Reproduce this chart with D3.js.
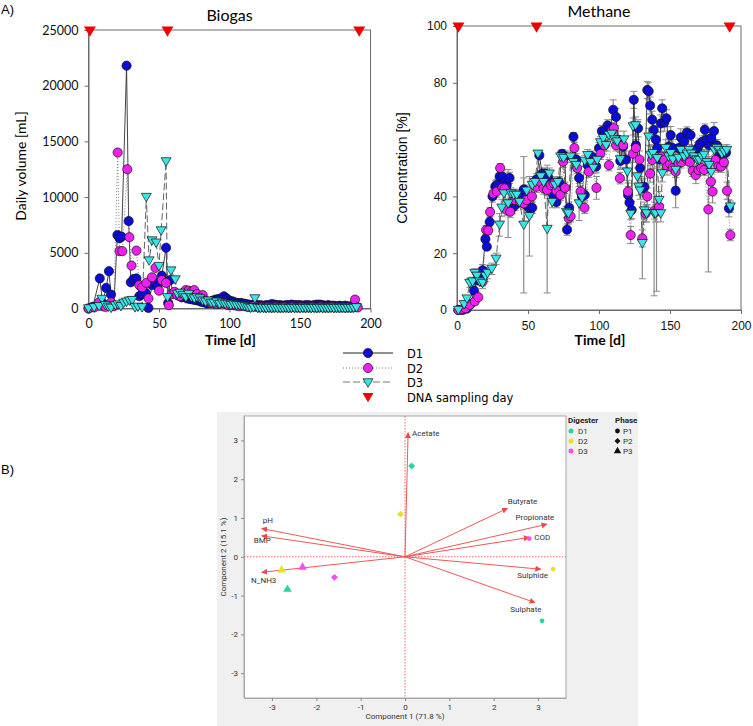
<!DOCTYPE html>
<html><head><meta charset="utf-8">
<script src="https://cdn.jsdelivr.net/npm/d3@7"></script>
<style>body{margin:0;background:#fff}</style>
</head><body><svg id="c" width="753" height="726"></svg>
<script>
// ---------- DATA ----------
const seriesNames = ["D1","D2","D3"];
const dnaSamplingDays = [1, 56, 192];
const biogasTicksY = [0,5000,10000,15000,20000,25000];
const methaneTicksY = [0,20,40,60,80,100];
const timeTicks = [0,50,100,150,200];

// Biogas daily volume [day, mL]
const biogasD1 = [[0,0],[3,150],[8,2700],[10,500],[12.5,1850],[14.5,3350],[16,1250],[18,300],[20.5,6600],[22,6300],[23.5,6450],[27,21800],[28.5,7850],[30,2350],[32,2650],[34,2700],[36,1100],[38,1300],[40.5,1400],[42.5,50],[45,2100],[47,2350],[49,2000],[52,2950],[55,5450],[56.5,500],[58,2550],[60,1350],[62,1300],[64,1150],[66,1000],[68,1050],[70,900],[72,850],[74,800],[76,750],[78,700],[80,600],[82,550],[84,450],[86,500],[88,700],[90,800],[92,850],[94,900],[96,1100],[98,900],[100,700],[102,650],[104,550],[106,500],[108,500],[110,450],[112,400],[114,350],[116,300],[118,350],[120,300],[122,300],[124,250],[126,300],[128,300],[130,400],[132,350],[134,300],[136,300],[138,250],[140,300],[142,300],[144,350],[146,300],[148,300],[150,300],[152,250],[154,300],[156,300],[158,250],[160,300],[162,350],[164,350],[166,300],[168,250],[170,300],[172,250],[174,250],[176,200],[178,250],[180,200],[182,250],[184,200],[186,200],[188,150],[190,150]];
const biogasD2 = [[0,0],[4,100],[7.5,550],[10,200],[12,150],[16,550],[18,200],[20.7,14000],[22,5150],[24,5150],[27.5,12500],[29,6400],[30.5,3850],[34,5200],[36,2100],[38,1900],[41,2300],[42.5,900],[45,2800],[47.5,3650],[50,1600],[52,2550],[55,2300],[57,300],[59,1300],[61,1500],[63,1200],[65,1100],[67,1400],[69,1650],[71,1600],[73,1500],[75,1650],[77,1300],[79,1000],[81,1200],[83,700],[85,600],[87,500],[89,450],[91,400],[93,450],[95,500],[97,400],[99,300],[101,350],[103,300],[105,250],[107,200],[109,250],[111,200],[113,150],[115,150],[117,200],[119,150],[121,100],[123,150],[125,100],[127,150],[129,100],[131,100],[133,150],[135,100],[137,100],[139,150],[141,100],[143,100],[145,150],[147,100],[149,100],[151,150],[153,100],[155,100],[157,100],[159,150],[161,100],[163,100],[165,150],[167,100],[169,100],[171,100],[173,150],[175,100],[177,100],[179,100],[181,100],[183,100],[185,100],[187,100],[189,800],[191,100]];
const biogasD3 = [[0,0],[4,100],[7.5,200],[9.5,850],[12,300],[14,150],[16,50],[19,300],[21,350],[23,200],[25,500],[27,600],[29,700],[31,750],[33,100],[35,150],[38,100],[41,10000],[43,4300],[45,6100],[48,5900],[50,3800],[51.5,7000],[55,13200],[56,1000],[58.5,3400],[61.5,2600],[63,1300],[65,1400],[67,1200],[69,1000],[71,1300],[73,1000],[75,900],[77,1000],[79,900],[81,700],[83,600],[85,700],[87,500],[89,500],[91,600],[93,400],[95,500],[97,400],[99,400],[101,300],[103,350],[105,300],[107,300],[109,250],[111,200],[113,100],[115,50],[117,100],[118,900],[120,50],[122,30],[124,50],[126,20],[128,50],[130,30],[132,50],[134,20],[136,40],[138,30],[140,50],[142,20],[144,40],[146,30],[148,50],[150,20],[152,40],[154,30],[156,50],[158,20],[160,40],[162,30],[164,50],[166,20],[168,40],[170,30],[172,50],[174,20],[176,40],[178,30],[180,50],[182,20],[184,40],[186,30],[188,50],[190,100]];

// Methane concentration [day, %, sd]
const methaneD1 = [[1,0,0.5],[4,0,0.5],[7,0.5,0.5],[9.5,2,1],[12,6.8,1],[14,10.5,1.5],[16,11,1.5],[18,14,2],[20,25,1.5],[21,22.3,1],[23,31,1.5],[25,40,2],[27,43.5,2],[28,44,2],[30,47,2],[32,47,2],[33.5,45,2],[35,44,2],[37,46.5,2],[39,36,2],[41,37,2],[43,39,2],[45,40,2],[47,42.5,4],[49,37,2],[51,35.8,3],[53,36,2],[56,46,2],[58,54.5,1],[60,48,2],[62,48,2],[64,47,2],[66,45,2],[68,40,2],[70,38,2],[72,45,2],[74,55,1.5],[76,54,2],[77.5,28.3,2],[79,36,2],[82,61,1.5],[84,53,2],[86,46.5,2],[88,40,2],[90,40.5,2],[92,51,2],[95,54,2],[98,50.5,2],[100,57,2],[102,63,2],[104,62.8,2],[106,65,2],[108,64,2],[110,70.5,3.5],[112,68,3],[113.5,60,3],[115,52.5,3],[117,57.5,3],[119,53,3],[120.5,40.5,3],[121.5,37.8,3],[123,35.2,3],[124.5,74,3],[126,58,3],[127.5,64,3],[129,50,3],[130.5,42.8,3],[132,43.4,3],[134,77.5,3],[135,77,3],[136,72,3],[137.5,67,3],[138.5,63.4,3],[140,60,3],[141,57,3],[142.5,53,3],[143.5,65.7,3],[144.5,71,3],[146,66,3],[147.5,67.5,3],[149,57.5,3],[150.5,61.6,3],[152,57,3],[154,42,6],[156,57,3],[157.6,60.8,3],[160,59.3,2],[162,62.5,2],[164.5,61.6,2],[166,56,2],[168,55,2],[169.5,57,2],[171,58.5,2],[173,59.3,2],[174.5,63.5,2],[176,60,2],[177.5,58,2],[179,60.5,2],[181,63,3],[183,58,2],[185,55,2],[187,55,2],[189.5,55.5,2],[191.5,35.8,3]];
const methaneD2 = [[1,0,0.3],[4,0.3,0.3],[6,0.6,0.5],[9,1.8,0.5],[12.5,3,1],[15,4.5,1],[18,10,1.5],[20.5,28.2,1.5],[22,28,1.5],[23.3,34.5,1.5],[25.7,41,2],[28,41.7,2],[30.4,50,1.5],[32,43,2],[33.5,42.8,2],[35,35.2,2],[37.5,34.6,2],[39.5,38.7,2],[41,38.7,2],[44.5,38.1,2],[47,37.5,2],[49,38.7,2],[52.8,40,2],[56,43.4,2],[59,45,2],[61,42.8,2],[63.4,42.3,2],[66,44,2],[68,44.6,2],[70,42,2],[72.8,40.5,2],[74.7,52.2,2],[76,43,2],[78.7,32.3,2],[80,33,2],[82.7,57,2],[84.6,50,2],[87,41.7,2],[89.8,36,2],[92.8,48.7,2],[95,52,2],[98.2,43,4],[101,55,2],[104,58,2],[107,51,2],[109,63,2],[110.5,64,2],[112,58,2],[114.7,46.4,2],[117,58,3],[120.4,41.7,3],[122.3,26.4,3],[124,55,3],[126,57,3],[128.5,53,3],[130.5,25.2,3],[132.9,34,3],[134,40,3],[136,48,3],[137.5,52.8,3],[139,35,3],[140.5,34.6,28],[142.3,36.4,3],[144,54,3],[146,52.8,3],[148,50.5,3],[150,51.5,2],[152,50,2],[154,48.7,2],[156,51.6,2],[158,52,2],[160,54,2],[162,53,2],[164,52,2],[166,49,2],[168.2,47.5,3],[170,49.3,2],[172,50,2],[174,49.3,2],[177,35.4,22],[178.8,45.2,3],[180,41.7,4],[182,52.8,2],[184,50.5,2],[186,50.5,2],[188,52,2],[190.1,42,3],[192.5,26.4,2]];
const methaneD3 = [[1,0,0.5],[5,2,1],[7,4,1],[9,9.5,1.5],[11,10,1.5],[12.5,13,1.5],[14,12,1.5],[16,10,1.5],[18,9.5,2],[20,12,2],[21.5,13,2],[24.5,14.5,2],[27.5,18,2],[30,30,4],[31.5,36,3],[33,41,3],[36,37.5,12],[38,41,2],[40,40.5,2],[42,40.5,2],[44,38,2],[47,30,24],[49,42,2],[51,33,14],[53,44,2],[55,45,2],[57,55,1],[59,47,2],[61,45,2],[63.5,28.5,22.5],[65,48,2],[67,38,2],[69,44,2],[71,45,2],[73,54,2],[75,53.5,2],[77,34.5,2],[78.5,34,2],[80,54,2],[82,52,2],[84,51,2],[86,37.5,6],[88,39.5,2],[90,52.5,2],[92,54.5,2],[94,52,2],[96,50,2],[98.7,52.8,2],[101,59,2],[103,60.5,2],[105,58,2],[107,61.6,2],[109,62,2],[111,60,2],[112.8,59.3,2],[115,53,3],[117.6,60,3],[120,48.7,3],[122.3,33.8,2],[124,64.6,3],[125.8,65,3],[127,47,3],[128,43.4,3],[129,42,3],[130.5,23.5,12.5],[132,35,3],[133.5,34,3],[135,61,3],[136.4,54.6,3],[138,55.2,3],[138.8,34,29],[139.8,34,3],[141,53.4,3],[142.3,38.7,3],[143.5,34,3],[144.6,48.1,3],[147,57,3],[149,54,2],[150.5,55.2,2],[152,53,2],[154,49.3,6],[156,53.5,2],[157.6,56.3,2],[160,54,2],[162,55,2],[163.5,56.3,2],[165,55,2],[167,54,2],[169,53,2],[170.6,52.8,2],[172.5,54,2],[174,54.6,2],[176,52,2],[177.6,51,3],[179,48.5,3],[181.2,56.3,2],[183,57,2],[184.7,56.3,2],[186.5,55,2],[188.2,55.7,2],[190,56.3,2],[192.5,36.4,2]];

// PCA biplot
const pcaTicks = [-3,-2,-1,0,1,2,3];
const pcaVars = ["Acetate","Butyrate","Propionate","COD","Sulphide","Sulphate","pH","BMP","N_NH3"];
const pcaVarX = [0.07, 2.31, 3.2, 2.8, 3.06, 2.93, -3.23, -3.23, -3.23];
const pcaVarY = [3.2, 1.25, 0.84, 0.5, -0.32, -1.18, 0.73, 0.54, -0.4];
const pcaDigester = ["D1","D2","D3","D2","D3","D1","D3","D2","D1"];
const pcaPhase = ["P2","P2","P2","P3","P3","P3","P1","P1","P1"];
const pcaScoreX = [0.15, -0.1, -1.59, -2.78, -2.31, -2.65, 2.8, 3.34, 3.09];
const pcaScoreY = [2.34, 1.1, -0.53, -0.34, -0.27, -0.84, 0.47, -0.32, -1.65];
const digesterNames = ["D1","D2","D3"];
const phaseNames = ["P1","P2","P3"];

// ---------- STYLE ----------
const svg = d3.select("#c");
const colA = {D1:"#0c0cd8", D2:"#f21ff2", D3:"#38e6e6"};
const lineDash = {D1:null, D2:"1,2", D3:"7,3"};
const lineCol = {D1:"#303030", D2:"#707070", D3:"#505050"};
const colB = {D1:"#2ad3a0", D2:"#ebe024", D3:"#f24ef2"};
const fCal = "Lato, 'Open Sans', sans-serif";
const fAri = "'Liberation Sans', Arial, sans-serif";

svg.append("text").attr("x",1).attr("y",14).style("font-family",fAri).style("font-size","13px").text("A)");
svg.append("text").attr("x",1).attr("y",474).style("font-family",fAri).style("font-size","13px").text("B)");

function triDown(x,y,s){ return `M${x-s},${y-s*0.75}L${x+s},${y-s*0.75}L${x},${y+s*0.95}Z`; }

function marker(g, name, x, y){
  if(name==="D3"){
    g.append("path").attr("d",triDown(x,y,5)).attr("fill",colA.D3).attr("stroke","#111").attr("stroke-width",0.7);
  } else {
    g.append("circle").attr("cx",x).attr("cy",y).attr("r",4.6).attr("fill",colA[name]).attr("stroke","#111").attr("stroke-width",0.7);
  }
}

function panel(opts){
  const g = svg.append("g");
  const x = d3.scaleLinear().domain([0,200]).range(opts.xr);
  const y = d3.scaleLinear().domain(opts.yd).range(opts.yr);
  g.append("rect").attr("x",opts.xr[0]).attr("y",opts.yr[1]).attr("width",opts.xr[1]-opts.xr[0]).attr("height",opts.yr[0]-opts.yr[1])
    .attr("fill","none").attr("stroke","#6a6a6a").attr("stroke-width",1);
  const ax = g.append("g").attr("transform",`translate(0,${opts.yr[0]})`).call(d3.axisBottom(x).tickValues(timeTicks).tickSize(4).tickSizeOuter(0).tickPadding(7).tickFormat(d3.format("d")));
  const ay = g.append("g").attr("transform",`translate(${opts.xr[0]},0)`).call(d3.axisLeft(y).tickValues(opts.yticks).tickSize(4).tickSizeOuter(0).tickPadding(6).tickFormat(d3.format("d")));
  [ax,ay].forEach(a=>{a.select(".domain").attr("stroke","#6a6a6a");a.selectAll(".tick line").attr("stroke","#6a6a6a");
    a.selectAll("text").style("font-family",opts.font).style("font-size",opts.tickFs).attr("fill","#111");});
  g.append("text").attr("x",(opts.xr[0]+opts.xr[1])/2).attr("y",opts.yr[1]-9).attr("text-anchor","middle")
    .style("font-family",fCal).style("font-size","16px").text(opts.title);
  g.append("text").attr("x",(opts.xr[0]+opts.xr[1])/2+1).attr("y",345).attr("text-anchor","middle")
    .style("font-family",fCal).style("font-size","14px").style("font-weight","bold").text("Time [d]");
  g.append("text").attr("transform",`translate(${opts.ylabX},${opts.ylabY}) rotate(-90)`).attr("text-anchor","middle")
    .style("font-family",opts.ylabFont).style("font-size","14px").text(opts.ylab);
  if(opts.err){
    opts.series.forEach((s,i)=>{
      s.forEach(d=>{
        const lo=y(Math.max(0,d[1]-d[2])), hi=y(d[1]+d[2]), cx=x(d[0]);
        g.append("line").attr("x1",cx).attr("x2",cx).attr("y1",lo).attr("y2",hi).attr("stroke","#8c8c8c").attr("stroke-width",1.2);
        [lo,hi].forEach(yy=>g.append("line").attr("x1",cx-3.5).attr("x2",cx+3.5).attr("y1",yy).attr("y2",yy).attr("stroke","#8c8c8c").attr("stroke-width",1));
      });
    });
  }
  const line = d3.line().x(d=>x(d[0])).y(d=>y(d[1]));
  opts.series.forEach((s,i)=>{
    const n=seriesNames[i];
    g.append("path").attr("d",line(s)).attr("fill","none").attr("stroke",lineCol[n]).attr("stroke-width",0.9)
      .attr("stroke-dasharray",lineDash[n]);
  });
  opts.series.forEach((s,i)=>{ s.forEach(d=>marker(g, seriesNames[i], x(d[0]), y(d[1]))); });
  dnaSamplingDays.forEach(d=>{
    g.append("path").attr("d",triDown(x(d),opts.yr[1]+1,6)).attr("fill","#f00000");
  });
}

panel({xr:[88.5,370.5], yd:[0,25000], yr:[308.5,30], yticks:biogasTicksY, font:fCal, tickFs:"12.5px",
  title:"Biogas", ylab:"Daily volume [mL]", ylabX:26, ylabY:166, ylabFont:fCal,
  series:[biogasD1,biogasD2,biogasD3], err:false});
panel({xr:[457,741], yd:[0,100], yr:[310,26], yticks:methaneTicksY, font:fAri, tickFs:"12px",
  title:"Methane", ylab:"Concentration [%]", ylabX:407, ylabY:168, ylabFont:fAri,
  series:[methaneD1,methaneD2,methaneD3], err:true});

// Legend A
const lgA = svg.append("g");
const legRows = [353,368,382,397];
seriesNames.forEach((n,i)=>{
  const yy = legRows[i];
  lgA.append("line").attr("x1",343).attr("x2",393).attr("y1",yy).attr("y2",yy).attr("stroke",n==="D1"?"#222":"#777")
    .attr("stroke-width",1).attr("stroke-dasharray",lineDash[n]);
  marker(lgA, n, 368, n==="D3"?yy+0.5:yy);
  lgA.append("text").attr("x",407).attr("y",yy+4.5).style("font-family","'DejaVu Sans',sans-serif").style("font-size","11.5px").text(n);
});
lgA.append("path").attr("d",triDown(368,legRows[3],5.5)).attr("fill","#f00000");
lgA.append("text").attr("x",407).attr("y",legRows[3]+4.5).style("font-family","'DejaVu Sans',sans-serif").style("font-size","11.5px").text("DNA sampling day");

// ---------- PCA ----------
const gB = svg.append("g");
const fB = "Roboto, 'Noto Sans', sans-serif";
gB.append("rect").attr("x",217).attr("y",412).attr("width",421).attr("height",314).attr("fill","#f0f0f0");
const px = d3.scaleLinear().domain([-3.63,3.63]).range([244,566]);
const py = d3.scaleLinear().domain([-3.64,3.63]).range([698,416]);
gB.append("rect").attr("x",244).attr("y",416).attr("width",322).attr("height",282).attr("fill","#fff").attr("stroke","#a8a8a8").attr("stroke-width",1);
const pax = gB.append("g").attr("transform","translate(0,698)").call(d3.axisBottom(px).tickValues(pcaTicks).tickSize(3).tickSizeOuter(0).tickPadding(3).tickFormat(d3.format("d")));
const pay = gB.append("g").attr("transform","translate(244,0)").call(d3.axisLeft(py).tickValues(pcaTicks).tickSize(3).tickSizeOuter(0).tickPadding(3).tickFormat(d3.format("d")));
[pax,pay].forEach(a=>{a.select(".domain").attr("stroke","#a8a8a8");a.selectAll(".tick line").attr("stroke","#888");
  a.selectAll("text").style("font-family",fB).style("font-size","8px").attr("fill","#333");});
pax.selectAll("text").text(d=>d<0?"-"+Math.abs(d):d);
pay.selectAll("text").text(d=>d<0?"-"+Math.abs(d):d);
gB.append("text").attr("x",405).attr("y",719).attr("text-anchor","middle").style("font-family",fB).style("font-size","8px").attr("fill","#333").text("Component 1 (71.8 %)");
gB.append("text").attr("transform","translate(226,557) rotate(-90)").attr("text-anchor","middle").style("font-family",fB).style("font-size","8px").attr("fill","#333").text("Component 2 (15.1 %)");
gB.append("line").attr("x1",px(0)).attr("x2",px(0)).attr("y1",416).attr("y2",698).attr("stroke","#f04040").attr("stroke-width",0.8).attr("stroke-dasharray","1.5,1.5");
gB.append("line").attr("x1",244).attr("x2",566).attr("y1",py(0)).attr("y2",py(0)).attr("stroke","#f04040").attr("stroke-width",0.8).attr("stroke-dasharray","1.5,1.5");
gB.append("defs").append("marker").attr("id","ah").attr("viewBox","0 0 10 10").attr("refX",9).attr("refY",5)
  .attr("markerWidth",6).attr("markerHeight",6).attr("markerUnits","userSpaceOnUse").attr("orient","auto")
  .append("path").attr("d","M0,0L10,5L0,10Z").attr("fill","#f04848");
const labelPos = {Acetate:[4,3,"start"],Butyrate:[15,-4,"middle"],Propionate:[-12,-4,"middle"],COD:[5,3,"start"],
  Sulphide:[-8,9,"middle"],Sulphate:[-9,9,"middle"],pH:[1,-5,"start"],BMP:[-8,7,"start"],N_NH3:[2,11,"middle"]};
pcaVars.forEach((v,i)=>{
  gB.append("line").attr("x1",px(0)).attr("y1",py(0)).attr("x2",px(pcaVarX[i])).attr("y2",py(pcaVarY[i]))
    .attr("stroke","#f05858").attr("stroke-width",1).attr("marker-end","url(#ah)");
  const lp = labelPos[v];
  gB.append("text").attr("x",px(pcaVarX[i])+lp[0]).attr("y",py(pcaVarY[i])+lp[1]).attr("text-anchor",lp[2])
    .style("font-family",fB).style("font-size","8px").attr("fill","#333").text(v);
});
const symType = {P1:d3.symbolCircle, P2:d3.symbolSquare, P3:d3.symbolTriangle};
const symSize = {P1:18, P2:24, P3:32};
const symRot = {P1:0, P2:45, P3:0};
pcaScoreX.forEach((sx,i)=>{
  const ph = pcaPhase[i];
  gB.append("path").attr("d",d3.symbol().type(symType[ph]).size(symSize[ph])())
    .attr("transform",`translate(${px(sx)},${py(pcaScoreY[i])}) rotate(${symRot[ph]})`).attr("fill",colB[pcaDigester[i]]);
});
gB.append("text").attr("x",568).attr("y",423).style("font-family",fB).style("font-size","8px").style("font-weight","bold").attr("fill","#222").text("Digester");
gB.append("text").attr("x",615).attr("y",423).style("font-family",fB).style("font-size","8px").style("font-weight","bold").attr("fill","#222").text("Phase");
digesterNames.forEach((n,i)=>{
  const yy=431+i*10;
  gB.append("circle").attr("cx",571).attr("cy",yy).attr("r",2.5).attr("fill",colB[n]);
  gB.append("text").attr("x",578).attr("y",yy+3).style("font-family",fB).style("font-size","8px").attr("fill","#333").text(n);
});
phaseNames.forEach((n,i)=>{
  const yy=431+i*10;
  gB.append("path").attr("d",d3.symbol().type(symType[n]).size(n==="P1"?18:(n==="P2"?18:24))()).attr("transform",`translate(617.5,${yy}) rotate(${symRot[n]})`).attr("fill","#111");
  gB.append("text").attr("x",623).attr("y",yy+3).style("font-family",fB).style("font-size","8px").attr("fill","#333").text(n);
});
</script></body></html>
